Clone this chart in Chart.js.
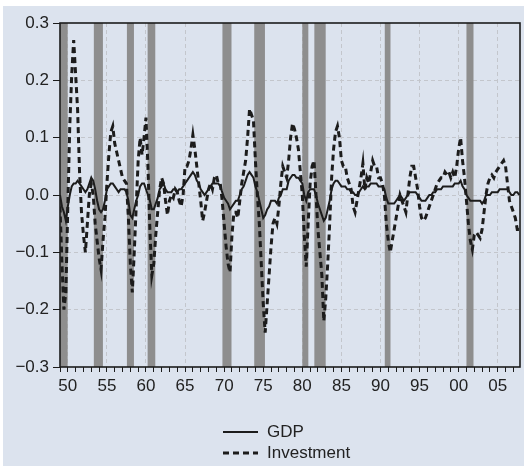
<!DOCTYPE html>
<html>
<head>
<meta charset="utf-8">
<script src="https://cdn.jsdelivr.net/npm/chart.js@4.4.1/dist/chart.umd.min.js"></script>
<style>
  body { margin: 0; background: #fff; }
  #wrap { position: absolute; left: 3px; top: 6px; width: 521px; height: 460px; background: #dce3ee; }
</style>
</head>
<body>
<div id="wrap"><canvas id="chart" width="521" height="460"></canvas></div>
<script>
// quarterly cyclical components, 1949Q1 .. 2007Q4
const startYear = 1949;

const gdp = [
  0.00, -0.02, -0.03, -0.045,   // 1949
  -0.02, 0.00, 0.015, 0.02,     // 1950
  0.02, 0.025, 0.02, 0.015,
  0.01, 0.005, 0.01, 0.02,
  0.03, 0.025, 0.01, -0.01,
  -0.025, -0.03, -0.025, -0.01,
  0.01, 0.015, 0.02, 0.02,      // 1955
  0.015, 0.01, 0.005, 0.01,
  0.01, 0.01, 0.005, -0.01,
  -0.035, -0.04, -0.025, -0.01,
  0.00, 0.015, 0.02, 0.02,
  0.01, 0.00, -0.01, -0.025,    // 1960
  -0.025, -0.015, -0.005, 0.01,
  0.015, 0.02, 0.01, 0.005,
  0.005, 0.005, 0.01, 0.01,
  0.005, 0.01, 0.01, 0.015,
  0.02, 0.025, 0.03, 0.035,     // 1965
  0.04, 0.035, 0.025, 0.02,
  0.01, 0.005, 0.00, 0.005,
  0.01, 0.015, 0.02, 0.02,
  0.02, 0.02, 0.015, 0.005,
  -0.005, -0.01, -0.015, -0.025, // 1970
  -0.02, -0.015, -0.01, -0.01,
  0.00, 0.01, 0.015, 0.025,
  0.035, 0.04, 0.035, 0.03,
  0.015, 0.005, -0.01, -0.025,
  -0.04, -0.035, -0.025, -0.02, // 1975
  -0.01, -0.01, -0.01, -0.015,
  -0.005, 0.00, 0.01, 0.01,
  0.01, 0.025, 0.03, 0.035,
  0.035, 0.03, 0.03, 0.025,
  0.02, 0.00, -0.01, 0.005,     // 1980
  0.01, 0.01, 0.01, 0.00,
  -0.015, -0.025, -0.035, -0.045,
  -0.04, -0.025, -0.01, 0.01,
  0.02, 0.025, 0.025, 0.02,
  0.015, 0.015, 0.015, 0.01,    // 1985
  0.01, 0.005, 0.005, 0.00,
  0.00, 0.005, 0.01, 0.015,
  0.01, 0.015, 0.015, 0.02,
  0.02, 0.02, 0.02, 0.015,
  0.015, 0.015, 0.01, -0.005,   // 1990
  -0.015, -0.015, -0.015, -0.015,
  -0.01, -0.005, 0.00, -0.005,
  -0.01, -0.005, 0.00, 0.005,
  0.005, 0.005, 0.005, 0.00,
  -0.005, -0.01, -0.01, -0.01,  // 1995
  -0.005, 0.00, 0.00, 0.005,
  0.005, 0.01, 0.01, 0.01,
  0.015, 0.015, 0.015, 0.015,
  0.015, 0.015, 0.02, 0.02,
  0.02, 0.025, 0.015, 0.01,     // 2000
  0.00, -0.005, -0.01, -0.01,
  -0.01, -0.01, -0.01, -0.01,
  -0.015, -0.01, 0.00, 0.00,
  0.00, 0.005, 0.005, 0.005,
  0.005, 0.01, 0.01, 0.01,      // 2005
  0.01, 0.01, 0.005, 0.00,
  0.00, 0.005, 0.005, 0.00
];

const investment = [
  -0.02, -0.12, -0.20, -0.17,   // 1949
  -0.02, 0.12, 0.21, 0.27,      // 1950
  0.21, 0.15, 0.04, -0.03,
  -0.07, -0.10, -0.05, 0.00,
  0.02, 0.00, -0.05, -0.08,
  -0.11, -0.13, -0.08, -0.04,
  0.02, 0.07, 0.11, 0.12,       // 1955
  0.09, 0.075, 0.06, 0.045,
  0.03, 0.025, 0.02, -0.04,
  -0.12, -0.17, -0.10, -0.02,
  0.06, 0.10, 0.07, 0.10,
  0.135, 0.05, -0.06, -0.14,    // 1960
  -0.12, -0.07, -0.03, 0.01,
  0.03, 0.02, -0.01, -0.035,
  -0.01, 0.00, -0.005, 0.01,
  0.005, -0.01, -0.02, 0.00,
  0.05, 0.05, 0.06, 0.08,       // 1965
  0.105, 0.08, 0.05, 0.02,
  -0.01, -0.045, -0.03, -0.01,
  0.01, 0.02, 0.01, 0.03,
  0.035, 0.02, 0.02, -0.01,
  -0.05, -0.09, -0.12, -0.135,  // 1970
  -0.07, -0.03, -0.03, -0.04,
  -0.01, 0.02, 0.04, 0.06,
  0.10, 0.15, 0.14, 0.13,
  0.06, 0.00, -0.05, -0.12,
  -0.19, -0.24, -0.19, -0.14,   // 1975
  -0.09, -0.05, -0.04, -0.05,
  -0.02, 0.02, 0.05, 0.04,
  0.03, 0.06, 0.10, 0.125,
  0.115, 0.10, 0.08, 0.04,
  0.00, -0.07, -0.125, -0.05,   // 1980
  0.02, 0.05, 0.06, 0.00,
  -0.06, -0.10, -0.14, -0.22,
  -0.18, -0.12, -0.05, 0.03,
  0.08, 0.11, 0.12, 0.10,
  0.06, 0.05, 0.05, 0.03,       // 1985
  0.02, 0.01, -0.02, -0.03,
  -0.01, 0.01, 0.03, 0.055,
  0.01, 0.03, 0.02, 0.04,
  0.06, 0.05, 0.05, 0.03,
  0.03, 0.02, 0.00, -0.05,      // 1990
  -0.08, -0.10, -0.08, -0.06,
  -0.04, -0.02, 0.00, -0.01,
  -0.02, -0.03, 0.00, 0.03,
  0.05, 0.05, 0.03, 0.01,
  -0.02, -0.04, -0.045, -0.04,  // 1995
  -0.03, -0.02, -0.01, 0.00,
  0.01, 0.02, 0.025, 0.03,
  0.03, 0.04, 0.035, 0.04,
  0.03, 0.04, 0.03, 0.05,
  0.08, 0.10, 0.06, 0.03,       // 2000
  -0.01, -0.05, -0.08, -0.095,
  -0.07, -0.065, -0.07, -0.075,
  -0.06, -0.03, 0.00, 0.02,
  0.03, 0.035, 0.03, 0.04,
  0.045, 0.05, 0.055, 0.06,     // 2005
  0.05, 0.02, -0.01, -0.02,
  -0.03, -0.04, -0.06, -0.06
];

// NBER recessions (shaded bars), in years
const recessionStart = [1948.8, 1953.33, 1957.56, 1960.21, 1969.78, 1973.85, 1980.0, 1981.54, 1990.55, 2001.0];
const recessionEnd   = [1949.98, 1954.49, 1958.46, 1961.19, 1970.94, 1975.22, 1980.77, 1982.99, 1991.28, 2001.9];

const quarters = gdp.map((_, i) => startYear + i / 4);

const FONT = '"Liberation Sans", Arial, sans-serif';
const INK = '#1c1c1c';
const GRID = '#c3c6cc';

// grey recession bars behind the lines
const recessionBars = {
  id: 'recessionBars',
  beforeDatasetsDraw(chart) {
    const {ctx, chartArea: a, scales: {x}} = chart;
    ctx.save();
    ctx.beginPath();
    ctx.rect(a.left, a.top, a.width, a.height);
    ctx.clip();
    ctx.fillStyle = '#8e8e8e';
    recessionStart.forEach((s, i) => {
      const x0 = x.getPixelForValue(s);
      const x1 = x.getPixelForValue(recessionEnd[i]);
      ctx.fillRect(x0, a.top, x1 - x0, a.height);
    });
    ctx.restore();
  }
};

// box round the plot
const frame = {
  id: 'frame',
  afterDatasetsDraw(chart) {
    const {ctx, chartArea: a} = chart;
    ctx.save();
    ctx.strokeStyle = INK;
    ctx.lineWidth = 1.6;
    ctx.strokeRect(a.left, a.top, a.width, a.height);
    ctx.restore();
  }
};

// legend stacked and left aligned under the axis
const stackedLegend = {
  id: 'stackedLegend',
  afterDraw(chart) {
    const ctx = chart.ctx;
    ctx.save();
    ctx.font = '17px ' + FONT;
    ctx.fillStyle = '#222';
    ctx.textBaseline = 'middle';
    chart.data.datasets.forEach((ds, i) => {
      const y = 426 + i * 21;
      ctx.beginPath();
      ctx.setLineDash(ds.borderDash || []);
      ctx.lineWidth = ds.borderWidth;
      ctx.strokeStyle = ds.borderColor;
      ctx.moveTo(220, y);
      ctx.lineTo(255, y);
      ctx.stroke();
      ctx.fillText(ds.label, 264, y);
    });
    ctx.restore();
  }
};

Chart.defaults.font.family = FONT;
Chart.defaults.font.size = 17;
Chart.defaults.color = '#222';

new Chart(document.getElementById('chart'), {
  type: 'line',
  plugins: [recessionBars, frame, stackedLegend],
  data: {
    datasets: [
      {
        label: 'GDP',
        data: quarters.map((x, i) => ({x, y: gdp[i]})),
        borderColor: INK,
        borderWidth: 2,
        pointRadius: 0,
        tension: 0
      },
      {
        label: 'Investment',
        data: quarters.map((x, i) => ({x, y: investment[i]})),
        borderColor: INK,
        borderWidth: 3,
        borderDash: [6, 4],
        pointRadius: 0,
        tension: 0
      }
    ]
  },
  options: {
    responsive: false,
    devicePixelRatio: 1,
    animation: false,
    layout: { padding: { top: 17, right: 4, left: 0, bottom: 0 } },
    plugins: {
      legend: { display: false },
      tooltip: { enabled: false }
    },
    scales: {
      x: {
        type: 'linear',
        min: 1949,
        max: 2007.85,
        afterFit: (s) => { s.height = 99; },
        border: { display: false, dash: [4, 3] },
        grid: {
          color: (c) => (c.tick.value % 5 === 0 ? GRID : 'rgba(0,0,0,0)'),
          tickColor: INK,
          tickLength: 5,
          lineWidth: 1
        },
        ticks: {
          stepSize: 1,
          includeBounds: false,
          autoSkip: false,
          maxRotation: 0,
          padding: 4,
          color: '#222',
          callback: (v) => (v % 5 === 0 ? String(v % 100).padStart(2, '0') : '')
        }
      },
      y: {
        min: -0.3,
        max: 0.3,
        afterFit: (s) => { s.width = 57; },
        border: { display: false, dash: [4, 3] },
        grid: {
          color: (c) => (Math.abs(Math.abs(c.tick.value) - 0.3) < 1e-6 ? 'rgba(0,0,0,0)' : GRID),
          tickColor: INK,
          tickLength: 7,
          lineWidth: 1
        },
        ticks: {
          stepSize: 0.1,
          padding: 4,
          color: '#222',
          callback: (v) => (Math.abs(v) < 1e-9 ? '0.0' : v.toFixed(1).replace('-', '\u2212'))
        }
      }
    }
  }
});
</script>
</body>
</html>
